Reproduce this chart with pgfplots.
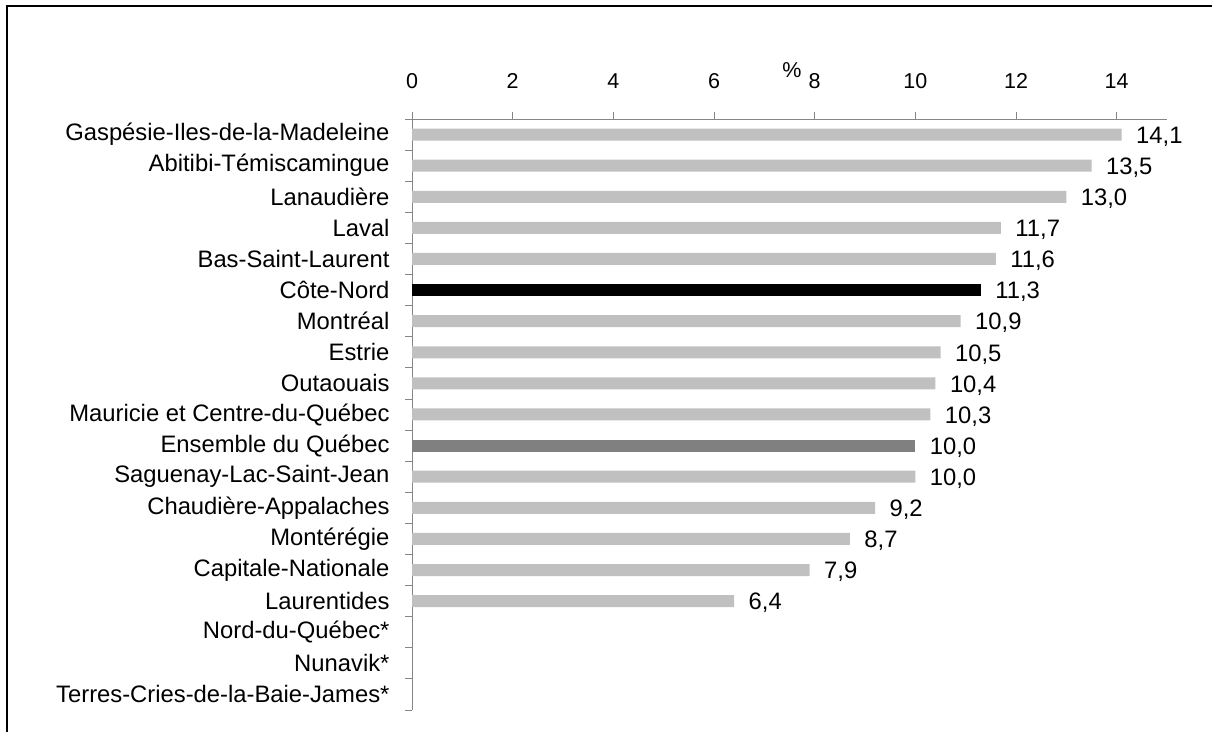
\documentclass[border=0pt]{standalone}
\usepackage{fontspec}
\setmainfont{Liberation Sans}
\usepackage{pgfplots}
\pgfplotsset{compat=1.18}
\definecolor{lgrey}{HTML}{C0C0C0}
\definecolor{dgrey}{HTML}{808080}
\definecolor{axgrey}{HTML}{868686}
\begin{document}
\begin{tikzpicture}[x=1pt,y=1pt]
\useasboundingbox (0,0) rectangle (1212,731);
\draw[line width=2pt] (7,-20) -- (7,725) -- (1240,725);
\begin{axis}[
  at={(412pt,21pt)}, anchor=south west,
  scale only axis, width=755pt, height=591pt,
  xmin=0, xmax=15, ymin=-0.5, ymax=18.5,
  axis x line=top, axis y line=left,
  axis line style={draw=axgrey, line width=0.8pt, -},
  xtick={0,2,...,14},
  xticklabel style={font=\fontsize{21.5}{25}\selectfont, yshift=20pt},
  /pgf/number format/assume math mode=true,
  tick align=outside,
  major tick length=7pt, minor tick length=7pt,
  major x tick style={draw=axgrey, line width=0.8pt},
  ytick={0,...,18},
  yticklabels={Terres-Cries-de-la-Baie-James*, Nunavik*, Nord-du-Québec*, Laurentides, Capitale-Nationale, Montérégie, Chaudière-Appalaches, Saguenay-Lac-Saint-Jean, Ensemble du Québec, Mauricie et Centre-du-Québec, Outaouais, Estrie, Montréal, Côte-Nord, Bas-Saint-Laurent, Laval, Lanaudière, Abitibi-Témiscamingue, Gaspésie-Iles-de-la-Madeleine},
  yticklabel style={font=\fontsize{23.8}{27}\selectfont, xshift=-12pt},
  major y tick style={draw=none},
  minor ytick={-0.5,0.5,...,18.5},
  minor y tick style={draw=axgrey, line width=0.8pt},
  xbar, bar width=12pt, bar shift=0pt,
  nodes near coords={\pgfmathprintnumber[fixed,fixed zerofill,precision=1,use comma,assume math mode=true]{\pgfplotspointmeta}},
  nodes near coords style={font=\fontsize{23.8}{27}\selectfont, text=black, anchor=west, xshift=11pt, yshift=-2pt},
  clip=false,
]
\addplot[fill=lgrey, draw=none] coordinates {
 (14.1,18) (13.5,17) (13.0,16) (11.7,15) (11.6,14)
 (10.9,12) (10.5,11) (10.4,10) (10.3,9)
 (10.0,7) (9.2,6) (8.7,5) (7.9,4) (6.4,3)};
\addplot[fill=black, draw=none] coordinates {(11.3,13)};
\addplot[fill=dgrey, draw=none] coordinates {(10.0,8)};
\end{axis}
\node[font=\fontsize{21.5}{25}\selectfont] at (792,661) {\%};
\end{tikzpicture}
\end{document}
